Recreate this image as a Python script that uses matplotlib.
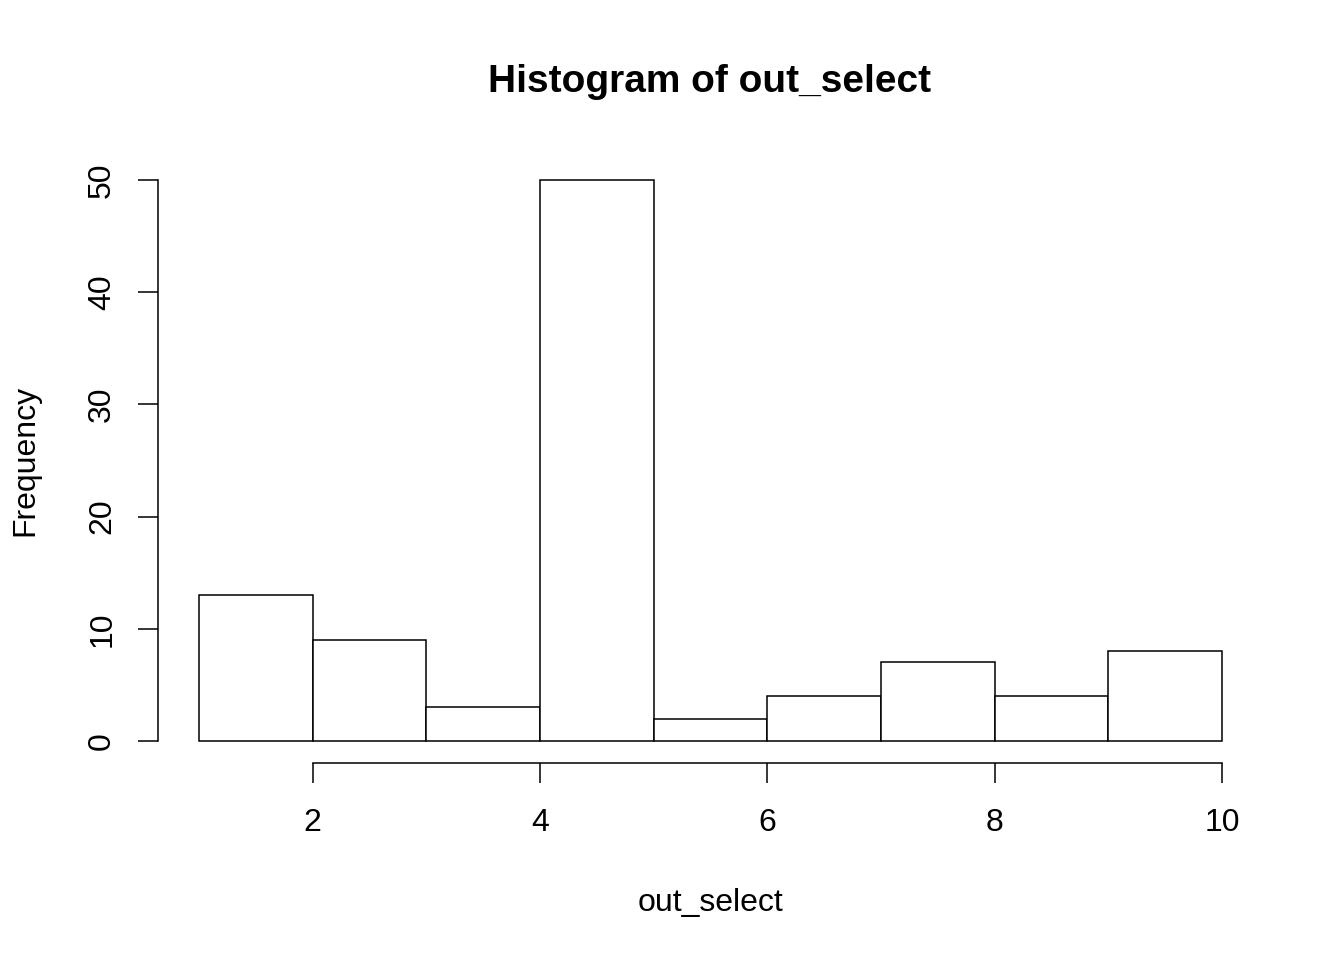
import matplotlib
matplotlib.use("Agg")
import matplotlib.pyplot as plt

# histogram of out_select, bins of width 1 from 1 to 10
bin_edges = [1, 2, 3, 4, 5, 6, 7, 8, 9, 10]
counts = [13, 9, 3, 50, 2, 4, 7, 4, 8]
x_ticks = [2, 4, 6, 8, 10]
y_ticks = [0, 10, 20, 30, 40, 50]

plt.rcParams['font.family'] = ['Liberation Sans', 'DejaVu Sans']

fig = plt.figure(figsize=(13.44, 9.6), dpi=100)
ax = fig.add_axes([0.1176, 0.2048, 0.8221, 0.6310])

ax.bar(bin_edges[:-1], counts, width=1, align='edge',
       facecolor='white', edgecolor='black', linewidth=1.1)

# R style: 4% padding around the data range
ax.set_xlim(0.64, 10.36)
ax.set_ylim(-2, 52)

ax.spines['top'].set_visible(False)
ax.spines['right'].set_visible(False)
ax.spines['left'].set_bounds(0, 50)
ax.spines['bottom'].set_bounds(2, 10)
ax.spines['left'].set_linewidth(1.1)
ax.spines['bottom'].set_linewidth(1.1)

ax.set_xticks(x_ticks)
ax.set_yticks(y_ticks)
ax.tick_params(axis='both', direction='out', length=14.4, width=1.1,
               labelsize=23)
ax.tick_params(axis='x', pad=18)
ax.tick_params(axis='y', labelrotation=90, pad=15)
for lab in ax.get_yticklabels():
    lab.set_va('center')

fig.text(0.5283, 0.915, 'Histogram of out_select', ha='center', va='center',
         fontsize=28, fontweight='bold')
fig.text(0.5283, 0.059, 'out_select', ha='center', va='center', fontsize=23)
fig.text(0.019, 0.52, 'Frequency', ha='center', va='center', fontsize=23,
         rotation=90)

fig.savefig('out.png', dpi=100)
